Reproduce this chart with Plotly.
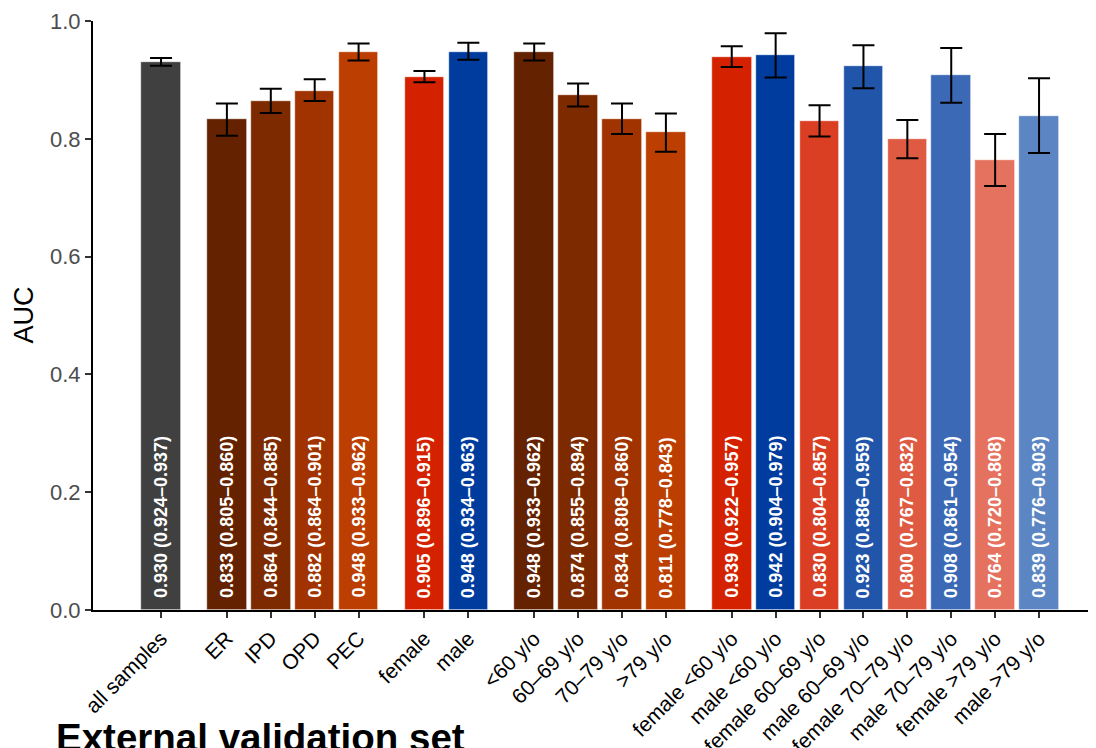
import plotly.graph_objects as go

categories = ["all samples", "ER", "IPD", "OPD", "PEC", "female", "male",
              "<60 y/o", "60–69 y/o", "70–79 y/o", ">79 y/o",
              "female <60 y/o", "male <60 y/o", "female 60–69 y/o", "male 60–69 y/o",
              "female 70–79 y/o", "male 70–79 y/o", "female >79 y/o", "male >79 y/o"]
auc = [0.930, 0.833, 0.864, 0.882, 0.948, 0.905, 0.948,
       0.948, 0.874, 0.834, 0.811,
       0.939, 0.942, 0.830, 0.923, 0.800, 0.908, 0.764, 0.839]
ci_low = [0.924, 0.805, 0.844, 0.864, 0.933, 0.896, 0.934,
          0.933, 0.855, 0.808, 0.778,
          0.922, 0.904, 0.804, 0.886, 0.767, 0.861, 0.720, 0.776]
ci_high = [0.937, 0.860, 0.885, 0.901, 0.962, 0.915, 0.963,
           0.962, 0.894, 0.860, 0.843,
           0.957, 0.979, 0.857, 0.959, 0.832, 0.954, 0.808, 0.903]
groups = [0, 1, 1, 1, 1, 2, 2, 3, 3, 3, 3, 4, 4, 4, 4, 4, 4, 4, 4]
colors = ["#404040", "#642200", "#7e2a00", "#a03300", "#bc3e00", "#d42200", "#003c9e",
          "#642200", "#7e2a00", "#a03300", "#bc3e00",
          "#d42200", "#003c9e", "#da3f24", "#2155a9", "#df5a43", "#3b69b5", "#e5725f", "#5c86c3"]

# x positions: one unit per bar, extra half unit between groups
xpos = []
x = 0.0
for i, g in enumerate(groups):
    if i > 0:
        x += 1.0 if g == groups[i - 1] else 1.5
    xpos.append(x)

FONT = "Liberation Sans, Arial, sans-serif"
PW = 1011  # plot-area width in px
PH = 589   # plot-area height in px

fig = go.Figure()
fig.add_trace(go.Bar(
    x=xpos, y=auc, width=0.9,
    marker=dict(color=colors, line=dict(color="white", width=0.6)),
    error_y=dict(type="data", symmetric=False,
                 array=[h - a for h, a in zip(ci_high, auc)],
                 arrayminus=[a - l for a, l in zip(auc, ci_low)],
                 color="black", thickness=2, width=11),
    showlegend=False, hoverinfo="skip",
))

for xp, a, lo, hi in zip(xpos, auc, ci_low, ci_high):
    fig.add_annotation(x=xp, y=0, xref="x", yref="y",
                       text=f"<b>{a:.3f} ({lo:.3f}–{hi:.3f})</b>",
                       textangle=-90, showarrow=False,
                       xanchor="center", yanchor="bottom", yshift=10,
                       font=dict(family=FONT, size=18, color="white"))

fig.add_annotation(x=-70 / PW, y=0.5, xref="paper", yref="paper",
                   text="AUC", textangle=-90, showarrow=False,
                   xanchor="center", yanchor="middle",
                   font=dict(family=FONT, size=27, color="black"))

fig.add_annotation(x=-39 / PW, y=-104 / PH, xref="paper", yref="paper",
                   text="<b>External validation set</b>", showarrow=False,
                   xanchor="left", yanchor="top",
                   font=dict(family=FONT, size=38.5, color="black"))

fig.update_layout(
    width=1096, height=748,
    margin=dict(l=85, r=0, t=13, b=748 - 13 - PH, pad=0, autoexpand=False),
    plot_bgcolor="white", paper_bgcolor="white",
    bargap=0,
    xaxis=dict(range=[-1.55, -1.55 + PW / 43.9], tickvals=xpos, ticktext=categories,
               tickangle=-45, showline=True, linecolor="black", linewidth=2,
               ticks="outside", ticklen=6, tickwidth=2, tickcolor="#333333",
               showgrid=False, zeroline=False, automargin=False,
               tickfont=dict(family=FONT, size=21, color="black")),
    yaxis=dict(range=[0, 1], tickvals=[0, 0.2, 0.4, 0.6, 0.8, 1.0],
               ticktext=["0.0", "0.2", "0.4", "0.6", "0.8", "1.0"],
               showline=True, linecolor="black", linewidth=2,
               ticks="outside", ticklen=6, tickwidth=2, tickcolor="#333333",
               showgrid=False, zeroline=False, automargin=False,
               tickfont=dict(family=FONT, size=22, color="#4d4d4d")),
)

fig.write_html("out.html")
